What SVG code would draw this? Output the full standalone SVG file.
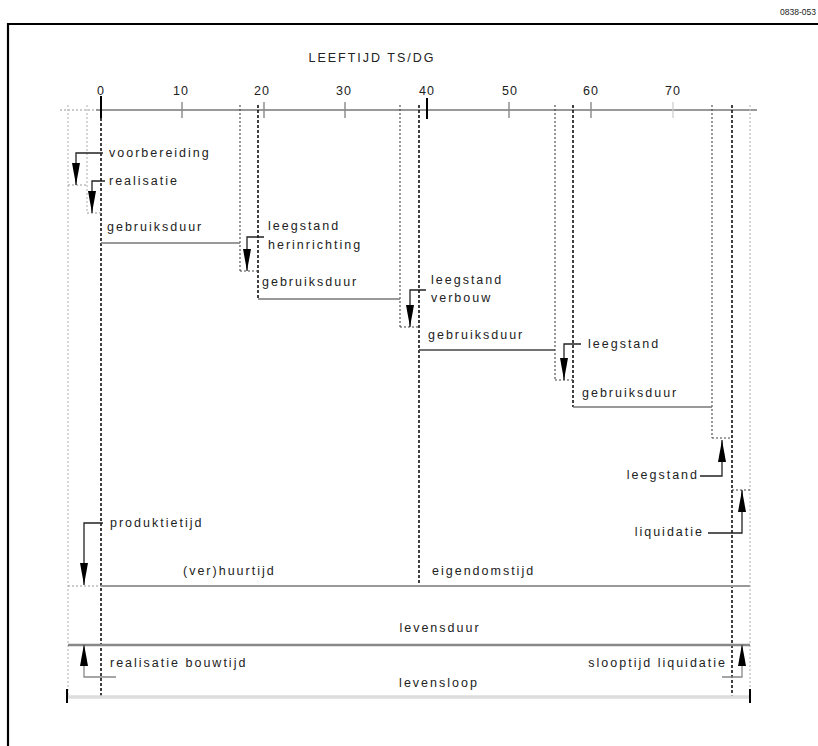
<svg xmlns="http://www.w3.org/2000/svg" width="818" height="746" viewBox="0 0 818 746">
<defs>
<style>
text{font-family:"Liberation Sans",Arial,sans-serif;font-size:12.5px;fill:#222;letter-spacing:2px}
.num{letter-spacing:1px}
.end{text-anchor:end}
.mid{text-anchor:middle}
.bd{stroke:#111;stroke-width:1.6;stroke-dasharray:3 2;fill:none}
.dd{stroke:#444;stroke-width:1.1;stroke-dasharray:2 2;fill:none}
.ld{stroke:#bbb;stroke-width:1.2;stroke-dasharray:2 2;fill:none}
.gl{stroke:#777;stroke-width:1.6;fill:none}
.tk{stroke:#888;stroke-width:1.4}
.ld2{stroke:#222;stroke-width:1.3;fill:none;marker-end:url(#ah)}
</style>
<marker id="ah" viewBox="0 0 22 8" refX="22" refY="4" markerWidth="22" markerHeight="8" markerUnits="userSpaceOnUse" orient="auto">
<path d="M0,0 L22,4 L0,8 z" fill="#000"/>
</marker>
</defs>
<rect width="818" height="746" fill="#fff"/>
<g id="frame">
<path d="M8,746 V24 H818" stroke="#000" stroke-width="2.2" fill="none"/>
<text x="816" y="15" class="end" style="font-size:8.5px;letter-spacing:0">0838-053</text>
</g>
<g id="axis">
<text x="372" y="62" class="mid">LEEFTIJD TS/DG</text>
<line x1="60" y1="110" x2="96" y2="110" class="ld" style="stroke:#999"/>
<line x1="96" y1="110" x2="757" y2="110" stroke="#999" stroke-width="2"/>
<line x1="101" y1="96" x2="101" y2="118" stroke="#000" stroke-width="2"/>
<line x1="182" y1="102" x2="182" y2="118" class="tk"/>
<line x1="264" y1="102" x2="264" y2="118" class="tk"/>
<line x1="345" y1="102" x2="345" y2="118" class="tk"/>
<line x1="427" y1="98" x2="427" y2="119" stroke="#000" stroke-width="2"/>
<line x1="509" y1="102" x2="509" y2="118" class="tk"/>
<line x1="591" y1="102" x2="591" y2="118" class="tk"/>
<line x1="673" y1="102" x2="673" y2="118" stroke="#ccc" stroke-width="1.2"/>
<text x="101" y="95" class="mid num">0</text>
<text x="181" y="95" class="mid num">10</text>
<text x="262" y="95" class="mid num">20</text>
<text x="344" y="95" class="mid num">30</text>
<text x="427" y="95" class="mid num">40</text>
<text x="510" y="95" class="mid num">50</text>
<text x="591" y="95" class="mid num">60</text>
<text x="673" y="95" class="mid num">70</text>
</g>
<g id="verticals">
<line x1="68" y1="105" x2="68" y2="698" class="ld"/>
<line x1="87" y1="105" x2="87" y2="213" class="ld"/>
<line x1="750" y1="105" x2="750" y2="698" class="ld"/>
<line x1="101" y1="118" x2="101" y2="698" class="bd"/>
<line x1="258" y1="105" x2="258" y2="300" class="bd"/>
<line x1="419" y1="105" x2="419" y2="586" class="bd"/>
<line x1="573" y1="105" x2="573" y2="407" class="bd"/>
<line x1="732" y1="105" x2="732" y2="698" class="bd"/>
<line x1="240" y1="105" x2="240" y2="271" class="dd"/>
<line x1="400" y1="105" x2="400" y2="327" class="dd"/>
<line x1="555" y1="105" x2="555" y2="380" class="dd"/>
<line x1="712" y1="105" x2="712" y2="438" class="dd"/>
<line x1="68" y1="185" x2="87" y2="185" class="ld" style="stroke:#999"/>
<line x1="87" y1="213" x2="101" y2="213" class="ld" style="stroke:#999"/>
<line x1="240" y1="271" x2="258" y2="271" class="dd"/>
<line x1="400" y1="327" x2="419" y2="327" class="dd"/>
<line x1="555" y1="380" x2="573" y2="380" class="dd"/>
<line x1="712" y1="438" x2="732" y2="438" class="dd"/>
<line x1="732" y1="490" x2="750" y2="490" class="dd"/>
</g>
<g id="periods">
<line x1="101" y1="243" x2="240" y2="243" class="gl"/>
<line x1="258" y1="299" x2="400" y2="299" class="gl"/>
<line x1="419" y1="350" x2="555" y2="350" class="gl" style="stroke:#444"/>
<line x1="573" y1="407" x2="712" y2="407" class="gl"/>
<line x1="68" y1="586" x2="101" y2="586" class="ld" style="stroke:#999"/>
<line x1="101" y1="586" x2="750" y2="586" stroke="#999" stroke-width="2"/>
<line x1="68" y1="645" x2="750" y2="645" stroke="#888" stroke-width="2.5"/>
<line x1="68" y1="697" x2="750" y2="697" stroke="#ddd" stroke-width="3.5"/>
<line x1="67" y1="689" x2="67" y2="703" stroke="#000" stroke-width="2"/>
<line x1="750" y1="689" x2="750" y2="703" stroke="#000" stroke-width="2"/>
</g>
<g id="connectors">
<path d="M103,153 H76 V185" class="ld2"/>
<path d="M105,181 H92 V213" class="ld2"/>
<path d="M264,237 H247 V271" class="ld2"/>
<path d="M426,290 H410 V327" class="ld2"/>
<path d="M581,344 H564 V380" class="ld2"/>
<path d="M700,476 H722 V440" class="ld2"/>
<path d="M708,533 H742 V490" class="ld2"/>
<path d="M103,523 H84 V585" class="ld2"/>
<path d="M116,677 H84 V644" class="ld2" style="stroke:#888"/>
<path d="M722,677 H742 V644" class="ld2" style="stroke:#888"/>
</g>
<g id="n-voorbereiding"><text x="109" y="157">voorbereiding</text></g>
<g id="n-realisatie"><text x="109" y="185">realisatie</text></g>
<g id="n-gebruiksduur1"><text x="107" y="231">gebruiksduur</text></g>
<g id="n-leegstand-herinrichting"><text x="268" y="230">leegstand</text><text x="268" y="249">herinrichting</text></g>
<g id="n-gebruiksduur2"><text x="262" y="286">gebruiksduur</text></g>
<g id="n-leegstand-verbouw"><text x="431" y="284">leegstand</text><text x="431" y="302">verbouw</text></g>
<g id="n-gebruiksduur3"><text x="428" y="339">gebruiksduur</text></g>
<g id="n-leegstand3"><text x="588" y="348">leegstand</text></g>
<g id="n-gebruiksduur4"><text x="582" y="397">gebruiksduur</text></g>
<g id="n-leegstand4"><text x="699" y="479" class="end">leegstand</text></g>
<g id="n-liquidatie"><text x="704" y="536" class="end">liquidatie</text></g>
<g id="n-produktietijd"><text x="110" y="527">produktietijd</text></g>
<g id="n-verhuurtijd"><text x="183" y="575">(ver)huurtijd</text></g>
<g id="n-eigendomstijd"><text x="432" y="575">eigendomstijd</text></g>
<g id="n-levensduur"><text x="440" y="632" class="mid">levensduur</text></g>
<g id="n-realisatie-bouwtijd"><text x="110" y="667">realisatie bouwtijd</text></g>
<g id="n-slooptijd"><text x="727" y="667" class="end">slooptijd liquidatie</text></g>
<g id="n-levensloop"><text x="439" y="687" class="mid">levensloop</text></g>
</svg>
